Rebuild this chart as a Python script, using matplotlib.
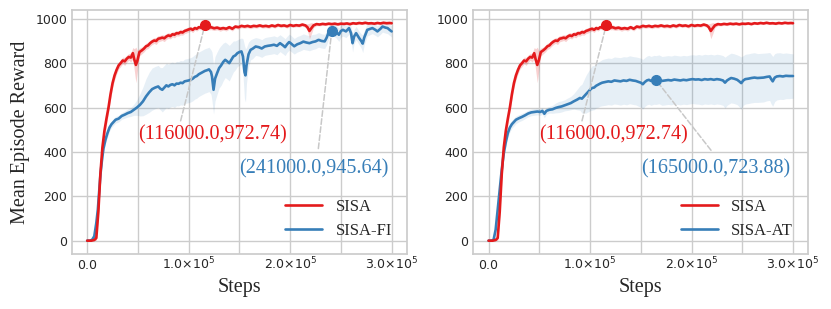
import numpy as np
import matplotlib.pyplot as plt
from matplotlib.ticker import MultipleLocator, FuncFormatter

# ---- data (steps in thousands) ----
sisa_k = [0, 4, 7, 9, 11, 13, 15, 17, 19, 21,
          23, 25, 27, 29, 31, 33, 35, 37, 39, 41,
          43, 45, 46.5, 48, 49.5, 51.5, 54, 56, 58, 60,
          62, 64, 66, 68, 70, 72, 74, 76, 78, 80,
          82, 84, 86, 88, 90, 92, 94, 96, 98, 100,
          102, 104, 106, 108, 110, 112, 114, 116, 118, 120,
          122, 125, 128, 131, 134, 137, 140, 143, 146, 149,
          152, 155, 158, 161, 164, 167, 170, 173, 176, 179,
          182, 185, 188, 191, 194, 197, 200, 203, 206, 209,
          212, 215, 217, 219, 221, 223, 226, 229, 232, 235,
          238, 241, 244, 247, 250, 253, 256, 259, 262, 265,
          268, 271, 274, 277, 280, 283, 286, 289, 292, 295,
          298, 300]
sisa_mean = [0, 0, 3, 12, 130, 300, 420, 495, 550, 600,
             660, 710, 745, 770, 790, 800, 812, 808, 820, 828,
             825, 845, 815, 792, 812, 850, 858, 866, 876, 880,
             890, 897, 902, 900, 910, 912, 915, 912, 920, 925,
             922, 930, 928, 935, 934, 940, 938, 945, 948, 952,
             955, 950, 958, 955, 962, 960, 966, 972.74, 966, 960,
             962, 957, 960, 955, 958, 955, 962, 955, 965, 962,
             968, 965, 968, 964, 968, 966, 970, 966, 968, 965,
             970, 966, 972, 968, 970, 966, 972, 968, 971, 969,
             974, 970, 962, 945, 958, 970, 976, 974, 977, 975,
             978, 976, 978, 975, 978, 977, 979, 976, 980, 978,
             981, 979, 982, 979, 980, 978, 981, 979, 982, 980,
             981, 980]
sisa_std = [0, 0, 2, 10, 25, 35, 35, 30, 28, 25,
            25, 22, 20, 18, 16, 15, 15, 18, 16, 15,
            20, 25, 50, 80, 45, 18, 15, 15, 14, 14,
            14, 13, 13, 16, 14, 13, 13, 15, 13, 13,
            13, 12, 14, 12, 12, 13, 12, 12, 12, 11,
            11, 12, 10, 10, 10, 10, 9, 9, 9, 10,
            11, 10, 10, 11, 9, 10, 9, 10, 8, 9,
            8, 8, 8, 9, 8, 8, 8, 8, 8, 8,
            8, 8, 7, 8, 7, 8, 7, 7, 7, 7,
            7, 8, 15, 35, 25, 10, 7, 6, 6, 6,
            6, 6, 6, 6, 6, 5, 5, 5, 5, 5,
            5, 5, 5, 5, 5, 5, 5, 5, 5, 5,
            5, 5]

fi_k = [0, 3, 5, 7, 9, 10.5, 12, 13, 14.5, 16,
        18, 20, 22, 24, 26, 28, 31, 34, 37, 40,
        43, 46, 49, 52, 55, 58, 61, 64, 67, 70,
        72, 74, 76, 78, 80, 82, 84, 86, 88, 90,
        92, 94, 96, 98, 100, 102, 104, 106, 108, 110,
        112, 114, 116, 118, 120, 122, 123, 124.5, 126, 128,
        130, 132, 134, 136, 138, 140, 142, 144, 146, 148,
        150, 152, 153.5, 155, 156, 157, 159, 161, 163, 166,
        169, 172, 175, 178, 181, 184, 187, 190, 193, 195,
        197, 199, 201, 204, 207, 210, 213, 216, 219, 222,
        225, 228, 231, 234, 236, 238, 240, 241, 243, 245,
        248, 250, 252, 255, 258, 260, 261.5, 263, 265, 268,
        270, 271.5, 273, 276, 279, 281, 284, 286, 289, 291,
        294, 296, 298, 300]
fi_mean = [0, 0, 5, 20, 80, 140, 230, 295, 360, 415,
           455, 485, 510, 525, 535, 545, 550, 562, 568, 575,
           580, 590, 600, 612, 628, 650, 668, 683, 690, 695,
           685, 680, 690, 700, 695, 702, 705, 700, 708, 707,
           712, 710, 718, 720, 722, 725, 730, 738, 742, 750,
           755, 760, 765, 768, 772, 760, 740, 680, 730, 755,
           778, 790, 805, 815, 808, 800, 815, 830, 835, 845,
           850, 853, 830, 760, 745, 790, 840, 860, 865, 875,
           872, 866, 875, 878, 880, 883, 878, 890, 880, 872,
           885, 895, 888, 876, 885, 890, 897, 893, 890, 895,
           898, 905, 900, 898, 915, 940, 952, 945.64, 950, 943,
           928, 945, 950, 943, 958, 935, 890, 920, 935, 913,
           900, 888, 915, 950, 955, 958, 950, 943, 955, 965,
           960, 958, 950, 943]
fi_std = [0, 0, 2, 5, 10, 15, 20, 20, 20, 20,
          18, 18, 16, 15, 15, 15, 15, 15, 16, 18,
          20, 25, 35, 50, 65, 80, 90, 95, 95, 95,
          95, 100, 100, 100, 100, 100, 100, 100, 100, 100,
          100, 100, 100, 100, 100, 100, 100, 100, 100, 100,
          100, 100, 100, 100, 100, 100, 110, 110, 100, 95,
          90, 90, 85, 80, 80, 80, 75, 70, 65, 60,
          60, 60, 80, 120, 120, 80, 55, 45, 45, 40,
          40, 40, 40, 40, 40, 40, 40, 38, 38, 38,
          36, 36, 36, 35, 35, 35, 35, 34, 34, 34,
          33, 33, 32, 32, 32, 30, 28, 28, 28, 28,
          30, 28, 28, 28, 28, 30, 40, 32, 30, 30,
          32, 40, 32, 28, 26, 25, 25, 25, 25, 25,
          25, 25, 25, 25]

at_k = [0, 3, 5, 7, 9, 11, 13, 15, 17, 19,
        21, 23, 25, 27, 30, 33, 36, 39, 42, 45,
        48, 51, 53, 55, 57, 60, 63, 66, 69, 72,
        75, 78, 81, 84, 87, 90, 92, 94, 96, 98,
        100, 102, 104, 106, 108, 110, 112, 115, 118, 121,
        124, 127, 130, 133, 136, 139, 142, 145, 148, 150,
        152, 154, 156, 158, 160, 163, 165, 168, 171, 174,
        177, 180, 183, 186, 189, 192, 195, 198, 201, 204,
        207, 210, 213, 216, 219, 222, 225, 228, 231, 233,
        235, 237, 239, 242, 245, 247, 249, 251, 253, 256,
        259, 262, 265, 268, 271, 274, 277, 278.5, 280, 282,
        284, 287, 290, 293, 296, 300]
at_mean = [0, 0, 5, 50, 140, 230, 320, 395, 445, 485,
           510, 525, 535, 545, 552, 558, 565, 573, 578, 580,
           582, 580, 585, 572, 585, 590, 592, 598, 602, 605,
           610, 615, 620, 628, 635, 643, 640, 650, 660, 670,
           680, 688, 690, 698, 703, 708, 712, 715, 718, 716,
           722, 720, 718, 722, 720, 725, 722, 720, 715, 712,
           705, 715, 722, 725, 720, 725, 723.88, 727, 720, 722,
           724, 722, 726, 724, 722, 725, 723, 726, 728, 726,
           727, 724, 728, 726, 728, 725, 728, 726, 722, 712,
           722, 728, 733, 730, 725, 718, 710, 722, 728, 730,
           733, 735, 733, 734, 735, 738, 740, 728, 718, 735,
           740, 742, 740, 743, 742, 742]
at_std = [0, 0, 3, 12, 20, 25, 25, 25, 22, 20,
          20, 18, 18, 17, 16, 16, 15, 15, 15, 15,
          15, 15, 15, 18, 15, 15, 18, 22, 25, 25,
          25, 28, 30, 35, 45, 55, 65, 75, 85, 90,
          95, 100, 100, 100, 102, 102, 104, 105, 105, 105,
          106, 106, 107, 107, 108, 108, 108, 108, 110, 110,
          112, 110, 110, 110, 110, 110, 110, 110, 110, 110,
          110, 110, 110, 110, 110, 110, 110, 110, 110, 110,
          112, 112, 112, 112, 112, 112, 112, 112, 112, 115,
          112, 112, 112, 112, 112, 115, 118, 112, 112, 112,
          112, 112, 110, 110, 110, 108, 108, 112, 112, 108,
          106, 105, 104, 103, 102, 100]

sisa_best = (116000, 972.74)
fi_best = (241000, 945.64)
at_best = (165000, 723.88)

RED = '#e41a1c'
BLUE = '#377eb8'
SERIF = 'Liberation Serif'

plt.style.use('seaborn-v0_8-whitegrid')
plt.rcParams['font.family'] = 'DejaVu Sans'
plt.rcParams['axes.edgecolor'] = '.8'
plt.rcParams['axes.linewidth'] = 1.25


def step_fmt(v, pos):
    if v == 0:
        return '0.0'
    return r'$%.1f{\times}10^{5}$' % (v / 1e5)


def draw_curve(ax, k, mean, std, color, label, band_alpha):
    x = np.array(k) * 1000
    m = np.array(mean)
    s = np.array(std)
    ax.fill_between(x, m - s, m + s, color=color, alpha=band_alpha, lw=0)
    ax.plot(x, m, color=color, lw=1.9, label=label)


def mark(ax, pt, color, xt, yt, rx, shrink):
    ax.plot(pt[0], pt[1], 'o', color=color, ms=7, zorder=5)
    ax.annotate('(%.1f,%.2f)' % (pt[0], pt[1]), xy=pt, xytext=(xt, yt),
                color=color, fontsize=14.5, family=SERIF,
                ha='left', va='center',
                arrowprops=dict(arrowstyle='-', linestyle='--', color='#c8c8c8',
                                lw=1.1, relpos=(rx, 1.0), shrinkA=shrink, shrinkB=3))


fig = plt.figure(figsize=(8.31, 3.09), dpi=100)
ax1 = fig.add_axes([0.0866, 0.178, 0.403, 0.790])
ax2 = fig.add_axes([0.5696, 0.178, 0.403, 0.790])

for ax, other_k, other_mean, other_std, other_label, other_best in [
        (ax1, fi_k, fi_mean, fi_std, 'SISA-FI', fi_best),
        (ax2, at_k, at_mean, at_std, 'SISA-AT', at_best)]:
    draw_curve(ax, other_k, other_mean, other_std, BLUE, other_label, 0.12)
    draw_curve(ax, sisa_k, sisa_mean, sisa_std, RED, 'SISA', 0.2)
    mark(ax, sisa_best, RED, 50000, 478, 0.28, 1)
    mark(ax, other_best, BLUE, 150000, 322, 0.52, 6)

    ax.set_xlim(-15000, 315000)
    ax.set_ylim(-60, 1040)
    ax.set_yticks([0, 200, 400, 600, 800, 1000])
    ax.set_xticks([0, 100000, 200000, 300000])
    ax.xaxis.set_minor_locator(MultipleLocator(50000))
    ax.xaxis.set_major_formatter(FuncFormatter(step_fmt))
    ax.grid(True, which='both', color='.8', lw=1)
    ax.tick_params(which='both', length=0, labelsize=9, colors='.15')
    ax.tick_params(axis='x', pad=11)
    for lbl in ax.get_xticklabels():
        lbl.set_verticalalignment('baseline')
    ax.set_xlabel('Steps', family=SERIF, fontsize=14.5, color='.15')

    handles, labels = ax.get_legend_handles_labels()
    order = [labels.index('SISA'), labels.index(other_label)]
    ax.legend([handles[i] for i in order], [labels[i] for i in order],
              loc='lower right', frameon=False, handlelength=2.2,
              prop={'family': SERIF, 'size': 12})

ax1.set_ylabel('Mean Episode Reward', family=SERIF, fontsize=14.5, color='.15')

fig.savefig('out.png', dpi=100)
